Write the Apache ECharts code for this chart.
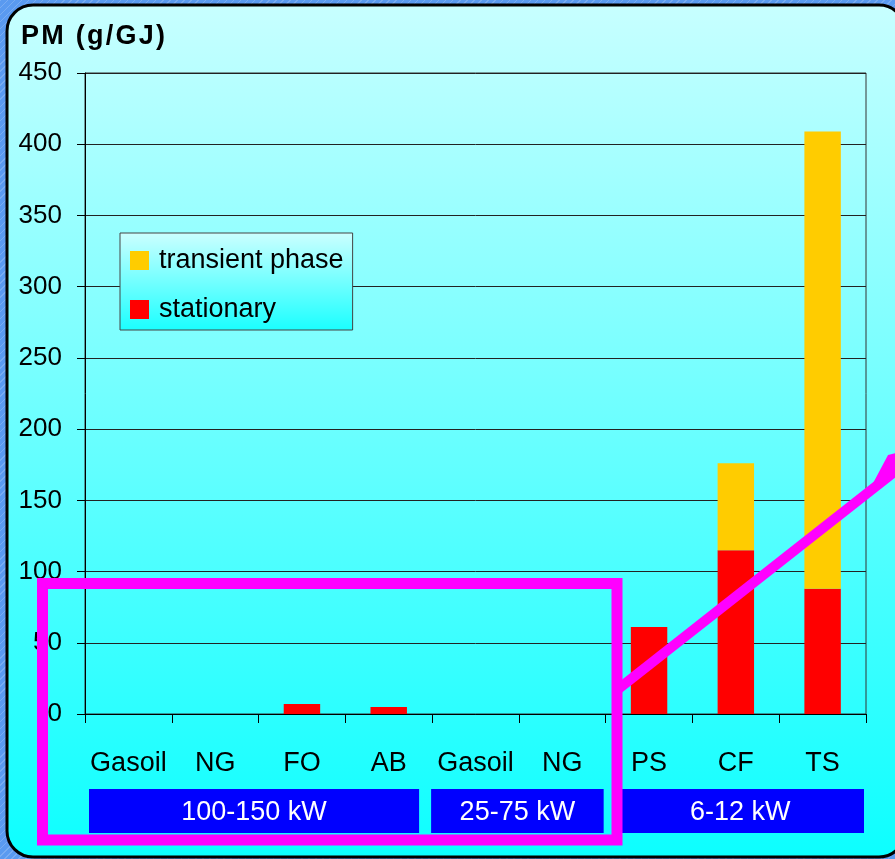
<!DOCTYPE html>
<html>
<head>
<meta charset="utf-8">
<script src="https://cdn.jsdelivr.net/npm/echarts@6/dist/echarts.min.js"></script>
<style>
html,body{margin:0;padding:0;}
body{width:895px;height:859px;overflow:hidden;background:#5a9af0;
background-image:repeating-linear-gradient(135deg, rgba(255,255,255,0.18) 0 1px, transparent 1px 5px);}
#chart{width:895px;height:859px;}
</style>
</head>
<body>
<div id="chart"></div>
<script>
// ---- data ----
const categories = ['Gasoil', 'NG', 'FO', 'AB', 'Gasoil', 'NG', 'PS', 'CF', 'TS'];
const stationary = [0, 0, 7, 5, 0, 0, 61, 115, 88];
const transient = [0, 0, 0, 0, 0, 0, 0, 61, 321];
const groupLabels = ['100-150 kW', '25-75 kW', '6-12 kW'];
const groupStart = [0, 4, 6];
const groupEnd = [3, 5, 8];
const yTitle = 'PM (g/GJ)';

const FONT = 'Liberation Sans, Arial, sans-serif';
const chart = echarts.init(document.getElementById('chart'), null, {renderer: 'canvas'});

const bgGrad = new echarts.graphic.LinearGradient(0, 0, 0, 1, [
  {offset: 0, color: '#c8ffff'}, {offset: 1, color: '#0cffff'}
]);
const legendGrad = new echarts.graphic.LinearGradient(0, 0, 0, 1, [
  {offset: 0, color: '#ccffff'}, {offset: 1, color: '#1affff'}
]);

// spaced-out title text (hair spaces between characters)
const spacedTitle = yTitle.split('').join('\u200A');

chart.setOption({
  backgroundColor: 'transparent',
  animation: false,
  title: {
    text: spacedTitle, left: 21, top: 23, padding: 0,
    textStyle: {fontFamily: FONT, fontSize: 27, fontWeight: 'bold', color: '#000'}
  },
  legend: {
    data: ['transient phase', 'stationary'],
    orient: 'vertical', left: 120, top: 233,
    padding: [14, 9, 7, 10],
    itemWidth: 19, itemHeight: 19, itemGap: 22,
    icon: 'rect',
    backgroundColor: legendGrad,
    borderColor: '#444', borderWidth: 1,
    textStyle: {fontFamily: FONT, fontSize: 27, color: '#000', padding: [0, 0, 0, 5], lineHeight: 20},
    selectedMode: false
  },
  grid: {
    left: 85, right: 29, top: 73, bottom: 145,
    show: true, borderColor: '#333', borderWidth: 1, backgroundColor: 'transparent'
  },
  xAxis: {
    type: 'category', data: categories,
    axisLine: {lineStyle: {color: '#000', width: 1}},
    axisTick: {show: true, length: 9, lineStyle: {color: '#000'}},
    axisLabel: {interval: 0, margin: 36, fontFamily: FONT, fontSize: 27, color: '#000'}
  },
  yAxis: {
    type: 'value', min: 0, max: 450, interval: 50,
    axisLine: {show: true, lineStyle: {color: '#000', width: 1}},
    axisTick: {show: true, length: 8, lineStyle: {color: '#000'}},
    splitLine: {show: true, lineStyle: {color: '#222', width: 1}},
    axisLabel: {margin: 23, fontFamily: FONT, fontSize: 26, color: '#000'}
  },
  series: [
    {name: 'stationary', type: 'bar', stack: 'pm', data: stationary, barWidth: '42%',
     itemStyle: {color: '#ff0000'}},
    {name: 'transient phase', type: 'bar', stack: 'pm', data: transient, barWidth: '42%',
     itemStyle: {color: '#ffcc00'}}
  ]
});

// ---- annotations ----
const c0 = chart.convertToPixel({xAxisIndex: 0}, 0);
const c1 = chart.convertToPixel({xAxisIndex: 0}, 1);
const band = c1 - c0;
const edge = i => c0 + (i - 0.5) * band;
const groupPad = [[4, 13], [-1, 2], [11, 2]];
const graphics = [
  {type: 'rect', z: -10, silent: true,
   shape: {x: 7, y: 5, width: 898, height: 852, r: 26},
   style: {fill: bgGrad, stroke: '#000', lineWidth: 3}}
];
groupLabels.forEach((lab, g) => {
  const x0 = edge(groupStart[g]) + groupPad[g][0];
  const x1 = edge(groupEnd[g] + 1) - groupPad[g][1];
  graphics.push({type: 'rect', z: 50, silent: true,
    shape: {x: x0, y: 789, width: x1 - x0, height: 44},
    style: {fill: '#0000ff'}});
  graphics.push({type: 'text', z: 51, silent: true,
    x: (x0 + x1) / 2, y: 813,
    style: {text: lab, fill: '#fff', font: '27px ' + FONT, textAlign: 'center', textVerticalAlign: 'middle'}});
});
// magenta highlight box
graphics.push({type: 'rect', z: 100, silent: true,
  shape: {x: 42.5, y: 583.5, width: 574.5, height: 256.5},
  style: {fill: 'none', stroke: '#ff00ff', lineWidth: 11}});
// magenta arrow (head mostly beyond the right edge)
graphics.push({type: 'line', z: 100, silent: true,
  shape: {x1: 617, y1: 690, x2: 935, y2: 440},
  style: {stroke: '#ff00ff', lineWidth: 10}});
graphics.push({type: 'polygon', z: 100, silent: true,
  shape: {points: [[930, 444], [888, 455], [871, 487], [900, 470]]},
  style: {fill: '#ff00ff'}});
chart.setOption({graphic: graphics});
</script>
</body>
</html>
